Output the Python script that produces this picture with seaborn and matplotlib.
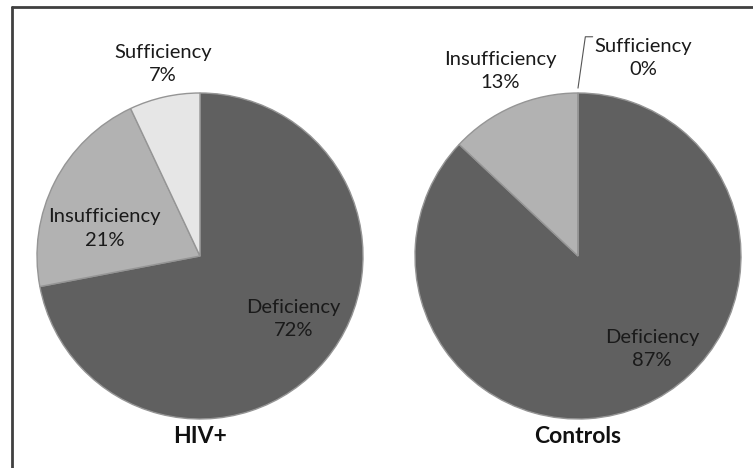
import numpy as np
import seaborn as sns
import matplotlib.pyplot as plt
from matplotlib.lines import Line2D

# Data
categories = ["Deficiency", "Insufficiency", "Sufficiency"]
hiv_values = [72, 21, 7]
control_values = [87, 13, 0]
group_titles = ["HIV+", "Controls"]

sns.set_theme(style="white")
plt.rcParams['font.family'] = ['Lato', 'DejaVu Sans']

colors = ["#606060", "#b2b2b2", "#e6e6e6"]

W, H = 753, 468
fig = plt.figure(figsize=(W / 100, H / 100), dpi=100)
fig.patch.set_facecolor("white")

# pie centres / radius in pixels
centers = [(200, 256), (578, 256)]
radius_px = 163

# per-label placement: (radius fraction, angle offset from wedge middle)
label_place = [
    [(0.69, 5.6), (0.61, 11.0), (1.20, -1.7)],
    [(0.73, 15.0), (1.23, -0.5), (1.28, -18.2)],
]


def draw_pie(ax, values, title, places):
    wedges, _ = ax.pie(values, colors=colors, startangle=90, counterclock=False,
                       radius=1.0,
                       wedgeprops=dict(edgecolor="#959595", linewidth=1.0))
    for w, cat, v, (r, off) in zip(wedges, categories, values, places):
        mid = (w.theta1 + w.theta2) / 2 + off
        x = r * np.cos(np.deg2rad(mid))
        y = r * np.sin(np.deg2rad(mid))
        ax.text(x, y, f"{cat}\n{v}%", ha="center", va="center", fontsize=14.5,
                color="#1a1a1a", linespacing=1.45)
        if v == 0:
            # leader line for empty slice
            a = np.deg2rad(w.theta1)
            x0, y0 = np.cos(a) * 1.03, np.sin(a) * 1.03
            ax.plot([x0, x0 + 0.045, x0 + 0.09], [y0, 1.345, 1.345],
                    color="#555555", lw=0.8, clip_on=False)
    ax.text(0, -1.11, title, ha="center", va="center", fontsize=16.5,
            fontweight="bold", color="#111111")
    ax.set_xlim(-1, 1)
    ax.set_ylim(-1, 1)
    ax.set_aspect("equal")
    ax.axis("off")


for (cx, cy), vals, title, places in zip(centers, [hiv_values, control_values],
                                          group_titles, label_place):
    ax = fig.add_axes([(cx - radius_px) / W, (H - cy - radius_px) / H,
                       2 * radius_px / W, 2 * radius_px / H])
    draw_pie(ax, vals, title, places)

# frame lines (left and top)
fig.add_artist(Line2D([12 / W, 12 / W], [0, 1 - 7 / H], color="#404040", lw=2,
                      transform=fig.transFigure))
fig.add_artist(Line2D([12 / W, 1], [1 - 7 / H, 1 - 7 / H], color="#404040", lw=2,
                      transform=fig.transFigure))

fig.savefig("out.png", dpi=100)
